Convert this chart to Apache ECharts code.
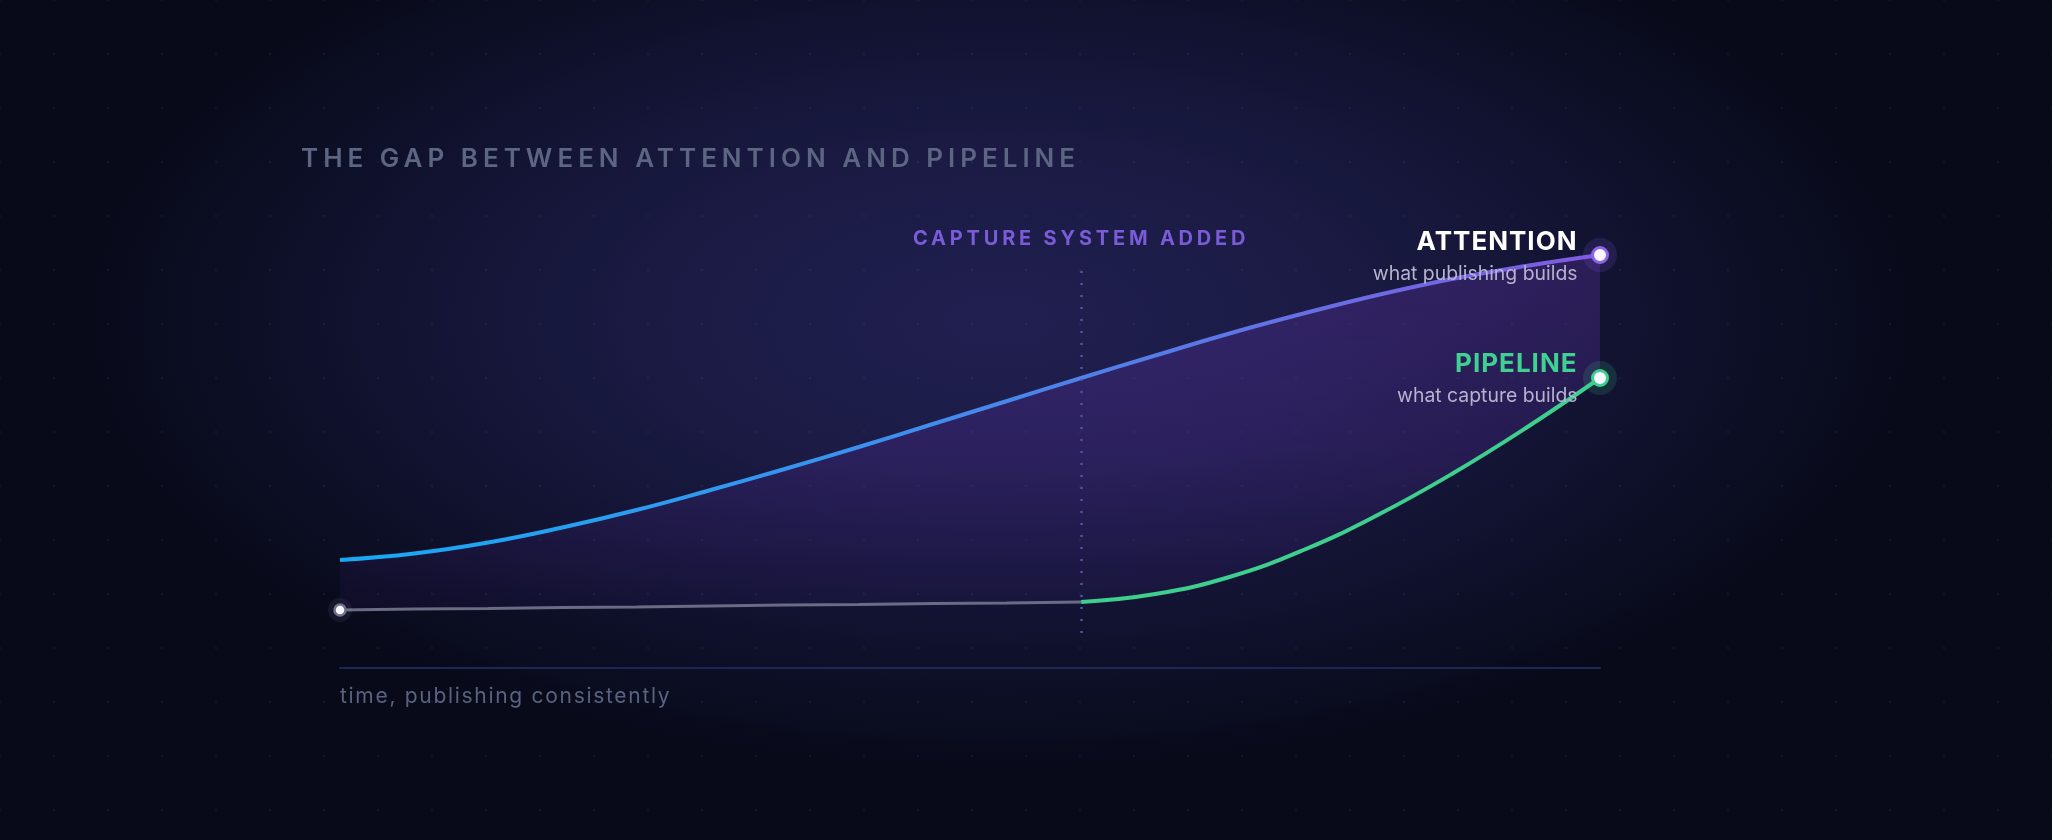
<!DOCTYPE html>
<html>
<head>
<meta charset="utf-8">
<title>The gap between attention and pipeline</title>
<script src="https://cdn.jsdelivr.net/npm/echarts@6/dist/echarts.min.js"></script>
<style>
  html, body { margin: 0; padding: 0; width: 2052px; height: 840px; overflow: hidden; }
  body {
    background:
      radial-gradient(circle, rgba(150, 160, 235, 0.07) 1px, transparent 1.6px) -27px -27px / 54px 54px,
      radial-gradient(ellipse 920px 450px at 1000px 320px, #201f50 0%, #1b1b45 35%, #141536 60%, #0c0e24 85%, #080a1a 100%);
    background-color: #080a1a;
  }
  #chart { width: 2052px; height: 840px; }
</style>
</head>
<body>
<div id="chart"></div>
<script>
// evenly spaced time steps, publishing consistently
const steps = [0, 1, 2, 3, 4, 5, 6, 7, 8, 9, 10, 11, 12, 13, 14, 15, 16, 17]
// relative level (0-100)
const attention = [21.6, 22.9, 25.1, 28.1, 31.6, 35.6, 39.8, 44.2, 48.8, 53.4, 58.0, 62.5, 66.9, 70.9, 74.6, 77.8, 80.4, 82.6]
const pipeline = [11.6, 11.8, 11.9, 12.1, 12.2, 12.4, 12.6, 12.7, 12.9, 13.0, 13.2, 14.8, 18.2, 23.6, 30.6, 38.8, 48.0, 58.0]

const captureStep = 10
const captureSpan = [7, 79.4]   // vertical extent of the dotted marker

const TITLE = 'THE GAP BETWEEN ATTENTION AND PIPELINE'
const AXIS_CAPTION = 'time, publishing consistently'
const CAPTURE_LABEL = 'CAPTURE SYSTEM ADDED'
const ATT_NAME = 'ATTENTION'
const ATT_SUB = 'what publishing builds'
const PIPE_NAME = 'PIPELINE'
const PIPE_SUB = 'what capture builds'

// letter spacing per text (zrender has no letterSpacing option, so the canvas does it)
const spacing = {
  [TITLE]: '5px',
  [CAPTURE_LABEL]: '3.8px',
  [ATT_NAME]: '1px',
  [PIPE_NAME]: '1px',
  [AXIS_CAPTION]: '1.7px'
}
const rawFillText = CanvasRenderingContext2D.prototype.fillText
CanvasRenderingContext2D.prototype.fillText = function (text, x, y, maxWidth) {
  const prev = this.letterSpacing
  this.letterSpacing = spacing[text] || '0px'
  if (maxWidth === undefined) rawFillText.call(this, text, x, y)
  else rawFillText.call(this, text, x, y, maxWidth)
  this.letterSpacing = prev
}

const last = steps.length - 1
const captureIdx = steps.indexOf(captureStep)
const font = 'Inter'
const smooth = 0.45

const chart = echarts.init(document.getElementById('chart'))

const option = {
  animation: false,
  backgroundColor: 'transparent',
  title: [
    {
      text: TITLE,
      left: 301,
      top: 146,
      padding: 0,
      textStyle: { color: '#5c6582', fontSize: 26, fontWeight: 600, fontFamily: font }
    },
    {
      text: AXIS_CAPTION,
      left: 340,
      top: 686,
      padding: 0,
      textStyle: { color: '#59627e', fontSize: 21, fontWeight: 400, fontFamily: font }
    }
  ],
  grid: { left: 340, right: 452, top: 168, bottom: 172 },
  xAxis: {
    type: 'category',
    data: steps,
    boundaryGap: false,
    axisLine: { show: true, lineStyle: { color: '#1c2852', width: 2 } },
    axisTick: { show: false },
    axisLabel: { show: false },
    splitLine: { show: false }
  },
  yAxis: { type: 'value', min: 0, max: 100, show: false },
  series: [
    // the gap: pipeline as an invisible base, attention minus pipeline stacked on top
    {
      name: 'gap-base',
      type: 'line',
      stack: 'gap',
      smooth,
      symbol: 'none',
      silent: true,
      lineStyle: { opacity: 0 },
      data: pipeline
    },
    {
      name: 'gap',
      type: 'line',
      stack: 'gap',
      smooth,
      symbol: 'none',
      silent: true,
      lineStyle: { opacity: 0 },
      areaStyle: {
        opacity: 1,
        color: new echarts.graphic.LinearGradient(0, 0, 0, 1, [
          { offset: 0, color: 'rgba(120, 62, 200, 0.26)' },
          { offset: 0.55, color: 'rgba(110, 56, 190, 0.20)' },
          { offset: 1, color: 'rgba(90, 45, 170, 0.07)' }
        ])
      },
      data: attention.map((v, i) => +(v - pipeline[i]).toFixed(2))
    },
    {
      name: 'Attention',
      type: 'line',
      smooth,
      symbol: 'none',
      z: 3,
      lineStyle: {
        width: 4,
        color: new echarts.graphic.LinearGradient(0, 0, 1, 0, [
          { offset: 0, color: '#16aaf4' },
          { offset: 0.4, color: '#3a92ee' },
          { offset: 0.6, color: '#4f80e8' },
          { offset: 0.8, color: '#6a6ce3' },
          { offset: 1, color: '#805ae0' }
        ])
      },
      data: attention,
      markLine: {
        silent: true,
        animation: false,
        symbol: ['none', 'none'],
        lineStyle: { color: '#5a4ea6', width: 2.5, type: [2, 10] },
        label: {
          show: true,
          position: 'end',
          distance: 22,
          formatter: CAPTURE_LABEL,
          color: '#7a5bd8',
          fontSize: 20,
          fontWeight: 700,
          fontFamily: font
        },
        data: [[{ coord: [captureIdx, captureSpan[0]] }, { coord: [captureIdx, captureSpan[1]] }]]
      }
    },
    {
      name: 'Pipeline before capture',
      type: 'line',
      symbol: 'none',
      z: 3,
      lineStyle: { width: 3, color: '#696c84' },
      data: pipeline.map((v, i) => (i <= captureIdx ? v : '-'))
    },
    {
      name: 'Pipeline',
      type: 'line',
      smooth,
      symbol: 'none',
      z: 3,
      lineStyle: { width: 4, color: '#3ecf8e' },
      data: pipeline.map((v, i) => (i >= captureIdx ? v : '-'))
    },
    // soft halos behind the end dots
    {
      name: 'halo',
      type: 'scatter',
      silent: true,
      z: 4,
      symbolSize: 34,
      itemStyle: { opacity: 1 },
      data: [
        { value: [last, attention[last]], itemStyle: { color: 'rgba(128, 92, 235, 0.16)' } },
        { value: [last, pipeline[last]], itemStyle: { color: 'rgba(62, 207, 142, 0.15)' } },
        { value: [0, pipeline[0]], symbolSize: 24, itemStyle: { color: 'rgba(200, 200, 235, 0.07)' } }
      ]
    },
    {
      name: 'dots',
      type: 'scatter',
      silent: true,
      z: 5,
      symbolSize: 15,
      itemStyle: { color: '#f8f6ff', borderWidth: 3, opacity: 1 },
      data: [
        {
          value: [last, attention[last]],
          itemStyle: { borderColor: '#8b64ea' },
          label: {
            show: true,
            position: 'left',
            distance: 13.5,
            offset: [0, 2],
            formatter: `{name|${ATT_NAME}}\n{sub|${ATT_SUB}}`,
            rich: {
              name: { fontSize: 26, fontWeight: 700, color: '#ffffff', lineHeight: 34, fontFamily: font, align: 'right' },
              sub: { fontSize: 19.4, color: '#b6b3cf', lineHeight: 30, fontFamily: font, align: 'right' }
            }
          }
        },
        {
          value: [last, pipeline[last]],
          itemStyle: { borderColor: '#3ecf8e' },
          label: {
            show: true,
            position: 'left',
            distance: 13.5,
            offset: [0, 1.5],
            formatter: `{name|${PIPE_NAME}}\n{sub|${PIPE_SUB}}`,
            rich: {
              name: { fontSize: 26, fontWeight: 700, color: '#3fd191', lineHeight: 34, fontFamily: font, align: 'right' },
              sub: { fontSize: 19.4, color: '#b6b3cf', lineHeight: 30, fontFamily: font, align: 'right' }
            }
          }
        },
        {
          value: [0, pipeline[0]],
          symbolSize: 11,
          itemStyle: { borderColor: '#6e7188', borderWidth: 2.5 }
        }
      ]
    }
  ]
}

chart.setOption(option)
</script>
</body>
</html>
